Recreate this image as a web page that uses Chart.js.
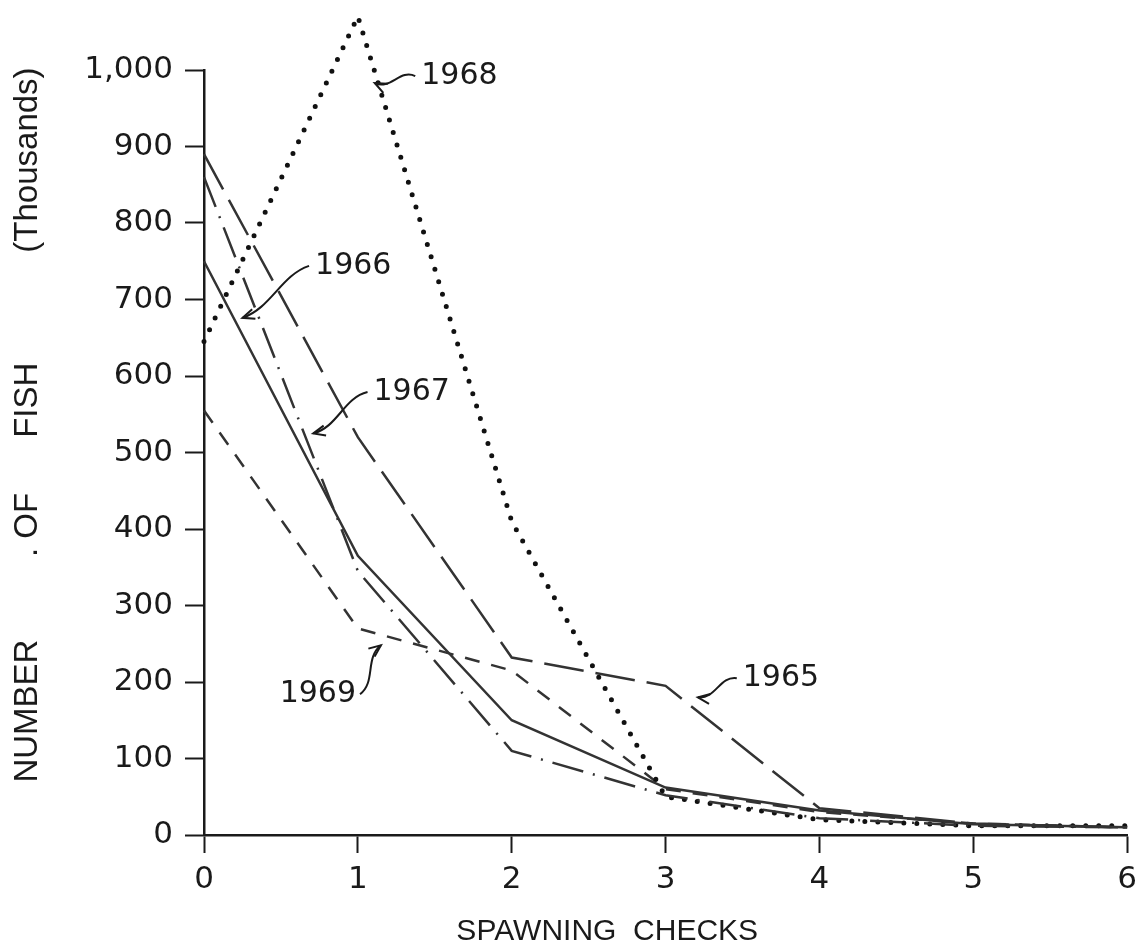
<!DOCTYPE html>
<html>
<head>
<meta charset="utf-8">
<script src="https://cdn.jsdelivr.net/npm/chart.js@4.4.1/dist/chart.umd.min.js"></script>
<style>
  body { margin: 0; background: #fff; }
  #wrap { width: 1145px; height: 947px; }
</style>
</head>
<body>
<div id="wrap"><canvas id="fishChart"></canvas></div>
<script>
// Spawning checks on x, thousands of fish on y
const checks = [0, 1, 2, 3, 4, 5, 6];
const fish1965 = [890, 520, 232, 195, 35, 15, 10];
const fish1966 = [750, 365, 150, 62, 32, 14, 10];
const fish1967 = [860, 345, 110, 52, 22, 12, 10];
const fish1968 = [645, 1070, 410, 50, 20, 12, 12];
const fish1969 = [555, 270, 215, 60, 30, 15, 10];
const yTicks = [0, 100, 200, 300, 400, 500, 600, 700, 800, 900, 1000];

// hand lettered year labels, positions in data units
const noteText = ['1968', '1966', '1967', '1969', '1965'];
const noteX = [1.66, 0.97, 1.35, 0.74, 3.75];
const noteY = [992, 744, 579, 184, 205];
const tipX = [1.11, 0.25, 0.71, 1.15, 3.21];
const tipY = [983, 676, 525, 248, 180];

const ink = '#1a1a1a';

function pts(vals) {
    return vals.map((v, i) => ({ x: checks[i], y: v }));
}

// draws the year labels with wavy arrows
const notesPlugin = {
    id: 'notes',
    afterDatasetsDraw(chart) {
        const ctx = chart.ctx;
        const xs = chart.scales.x, ys = chart.scales.y;
        ctx.save();
        ctx.font = '30px "DejaVu Sans"';
        ctx.fillStyle = ink;
        ctx.strokeStyle = ink;
        ctx.lineWidth = 2;
        ctx.textAlign = 'center';
        ctx.textBaseline = 'middle';
        noteText.forEach((t, i) => {
            const lx = xs.getPixelForValue(noteX[i]);
            const ly = ys.getPixelForValue(noteY[i]);
            const tx = xs.getPixelForValue(tipX[i]);
            const ty = ys.getPixelForValue(tipY[i]);
            ctx.fillText(t, lx, ly);
            const w = ctx.measureText(t).width;
            const sx = tx < lx ? lx - w / 2 - 6 : lx + w / 2 + 4;
            const sy = ly;
            const dx = tx - sx, dy = ty - sy;
            const len = Math.hypot(dx, dy);
            const nx = -dy / len * 10, ny = dx / len * 10;
            const c1x = sx + dx * 0.33 + nx, c1y = sy + dy * 0.33 + ny;
            const c2x = sx + dx * 0.66 - nx, c2y = sy + dy * 0.66 - ny;
            ctx.beginPath();
            ctx.moveTo(sx, sy);
            ctx.bezierCurveTo(c1x, c1y, c2x, c2y, tx, ty);
            ctx.stroke();
            const a = Math.atan2(ty - c2y, tx - c2x);
            ctx.beginPath();
            ctx.moveTo(tx - 13 * Math.cos(a - 0.4), ty - 13 * Math.sin(a - 0.4));
            ctx.lineTo(tx, ty);
            ctx.lineTo(tx - 13 * Math.cos(a + 0.4), ty - 13 * Math.sin(a + 0.4));
            ctx.stroke();
        });
        ctx.restore();
    }
};

const lineBase = {
    borderColor: '#333',
    borderWidth: 2.5,
    pointRadius: 0,
    fill: false,
    clip: false
};

new Chart(document.getElementById('fishChart'), {
    type: 'line',
    data: {
        datasets: [
            { ...lineBase, label: '1965', data: pts(fish1965), borderDash: [40, 12] },
            { ...lineBase, label: '1966', data: pts(fish1966) },
            { ...lineBase, label: '1967', data: pts(fish1967), borderDash: [32, 10, 2, 10] },
            { ...lineBase, label: '1968', data: pts(fish1968), borderDash: [0, 13],
              borderCapStyle: 'round', borderWidth: 5, borderColor: '#111' },
            { ...lineBase, label: '1969', data: pts(fish1969), borderDash: [15, 12] }
        ]
    },
    options: {
        responsive: true,
        maintainAspectRatio: false,
        animation: false,
        layout: { padding: { top: 70, right: 15, left: 0, bottom: 0 } },
        plugins: { legend: { display: false }, tooltip: { enabled: false } },
        scales: {
            x: {
                type: 'linear',
                min: 0,
                max: 6,
                afterFit: s => { s.height = 112; },
                afterBuildTicks: s => { s.ticks = checks.map(v => ({ value: v })); },
                grid: { drawOnChartArea: false, drawTicks: true, tickLength: 18, tickColor: ink, tickWidth: 2 },
                border: { color: ink, width: 2.5 },
                ticks: { color: ink, padding: 8, font: { family: 'DejaVu Sans', size: 31 } },
                title: {
                    display: true,
                    text: 'SPAWNING  CHECKS              ',
                    color: ink,
                    font: { family: 'Liberation Sans', size: 30, lineHeight: 1 },
                    padding: { top: 0, bottom: 0 }
                }
            },
            y: {
                min: 0,
                max: 1000,
                afterFit: s => { s.width = 204; },
                afterBuildTicks: s => { s.ticks = yTicks.map(v => ({ value: v })); },
                grid: { drawOnChartArea: false, drawTicks: true, tickLength: 19, tickColor: ink, tickWidth: 2 },
                border: { color: ink, width: 2.5 },
                ticks: {
                    color: ink,
                    padding: 12,
                    font: { family: 'DejaVu Sans', size: 31 },
                    callback: v => v.toLocaleString('en-US')
                },
                title: {
                    display: true,
                    text: '      NUMBER         . OF      FISH            (Thousands)',
                    color: ink,
                    font: { family: 'Liberation Sans', size: 33 },
                    padding: { top: 8, bottom: 0 }
                }
            }
        }
    },
    plugins: [notesPlugin]
});
</script>
</body>
</html>
